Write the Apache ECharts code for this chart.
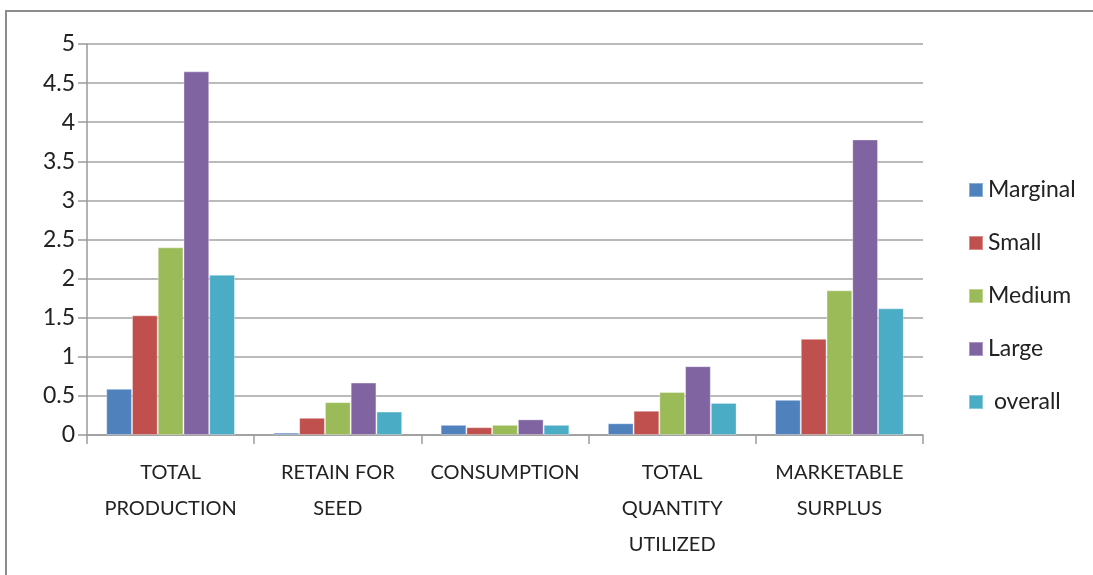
<!DOCTYPE html>
<html><head><meta charset="utf-8">
<script src="https://cdn.jsdelivr.net/npm/echarts@6/dist/echarts.min.js"></script>
<style>html,body{margin:0;padding:0;background:#fff}#c{width:1093px;height:575px}</style>
</head><body><div id="c"></div>
<script>
const categories = ["TOTAL\nPRODUCTION", "RETAIN FOR\nSEED", "CONSUMPTION", "TOTAL\nQUANTITY\nUTILIZED", "MARKETABLE\nSURPLUS"];
const seriesNames = ["Marginal", "Small", "Medium", "Large", " overall"];
const marginal = [0.59, 0.03, 0.13, 0.15, 0.45];
const small = [1.53, 0.22, 0.10, 0.31, 1.23];
const medium = [2.40, 0.42, 0.13, 0.55, 1.85];
const large = [4.65, 0.67, 0.20, 0.88, 3.78];
const overall = [2.05, 0.30, 0.13, 0.41, 1.62];
const colors = ["#4F81BD", "#C0504D", "#9BBB59", "#8064A2", "#4BACC6"];
const font = "Lato, 'Open Sans', sans-serif";

const chart = echarts.init(document.getElementById('c'));
const values = [marginal, small, medium, large, overall];
chart.setOption({
  animation: false,
  color: colors,
  graphic: [{type:'rect', shape:{x:6, y:11, width:1100, height:580}, style:{fill:'none', stroke:'#8c8c8c', lineWidth:2}, silent:true}],
  grid: {left: 87, right: 170, top: 44, bottom: 140},
  legend: {
    orient: 'vertical', left: 963, top: 173, itemGap: 29, itemWidth: 14, itemHeight: 14,
    icon: 'rect',
    textStyle: {fontFamily: font, fontSize: 23, lineHeight: 24, color: '#222'},
    data: seriesNames
  },
  xAxis: {
    type: 'category', data: categories,
    axisLine: {lineStyle: {color: '#9a9a9a', width: 1.5}},
    axisTick: {show: true, length: 9, lineStyle: {color: '#9a9a9a', width: 1.5}},
    axisLabel: {fontFamily: font, fontSize: 20, color: '#222', lineHeight: 36, margin: 20, interval: 0}
  },
  yAxis: {
    type: 'value', min: 0, max: 5, interval: 0.5,
    axisLine: {show: true, lineStyle: {color: '#9a9a9a', width: 1.5}},
    axisTick: {show: true, length: 9, lineStyle: {color: '#9a9a9a', width: 1.5}},
    axisLabel: {fontFamily: font, fontSize: 23, color: '#222', margin: 12},
    splitLine: {lineStyle: {color: '#a3a3a3', width: 1.5}}
  },
  series: seriesNames.map((n, i) => ({
    name: n, type: 'bar', data: values[i], barGap: '0%', barCategoryGap: '23%',
    itemStyle: {borderColor: 'rgba(255,255,255,0.35)', borderWidth: 1}
  }))
});
</script></body></html>
